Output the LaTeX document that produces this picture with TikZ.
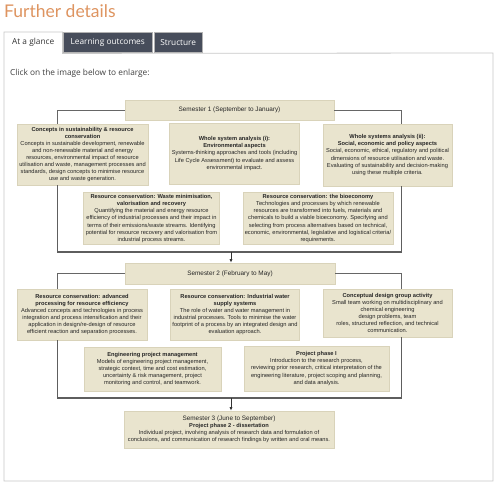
\documentclass[tikz,border=0pt]{standalone}
\usepackage{fontspec}
\setmainfont{Liberation Sans}
\newfontfamily\uifont{Open Sans}
\newfontfamily\titlefont{Lato}
\usetikzlibrary{arrows.meta}
\definecolor{boxfill}{HTML}{E9E4CE}
\definecolor{boxedge}{HTML}{D9D3BA}
\definecolor{connc}{HTML}{666666}
\definecolor{framec}{HTML}{5E5E5E}
\definecolor{tabdark}{HTML}{474D5B}
\definecolor{panelgray}{HTML}{C8C8C8}
\definecolor{titleorange}{HTML}{DE9460}
\begin{document}
\begin{tikzpicture}[x=1pt,y=-1pt,
  box/.style={draw=boxedge, fill=boxfill, line width=0.6pt, inner sep=2pt, align=center,
    font=\fontsize{5.7}{7.1}\selectfont, text=black!85},
  sem/.style={box, font=\fontsize{6.4}{8}\selectfont},
  wh/.style n args={2}{minimum width=#1pt, minimum height=#2pt},
  conn/.style={draw=connc, line width=0.9pt},
  frame/.style={draw=framec, line width=1.1pt},
  arr/.style={draw=black!80, line width=0.8pt, -{Latex[length=3.5pt,width=3pt]}},
  tabon/.style={fill=white, text=black!80, font=\uifont\fontsize{8.3}{9}\selectfont, inner sep=0pt, anchor=north west},
  taboff/.style={fill=tabdark, draw=black!30, text=white, font=\uifont\fontsize{8.3}{9}\selectfont, inner sep=0pt, anchor=north west},
]
\fill[white] (0,0) rectangle (500,483);
\useasboundingbox (0,0) rectangle (500,483);

% page header
\node[anchor=base west, inner sep=0pt, font=\titlefont\fontsize{17.5}{17.5}\selectfont, text=titleorange] (title) at (4,17) {Further details};
\node[tabon, wh={58}{21}] (tab1) at (4,32) {At a glance};
\node[taboff, wh={89}{20}] (tab2) at (63,32) {Learning outcomes};
\node[taboff, wh={48}{20}] (tab3) at (154,32) {Structure};
\coordinate (pne) at (493,53);
\coordinate (pse) at (493,481);
\coordinate (psw) at (4,481);
\draw[panelgray, line width=0.8pt] (tab1.south west) |- (tab1.north east) -- (tab1.south east) -- (pne) -- (pse) -- (psw) -- (tab1.south west);
\node[anchor=west, inner sep=0pt, font=\uifont\fontsize{8.3}{9}\selectfont, text=black!75] (click) at (10,73) {Click on the image below to enlarge:};

% coordinates for connector columns
\coordinate (l1) at (57.5,0);
\coordinate (r1) at (401.5,0);
\coordinate (bot1) at (231,252);
\coordinate (bot2) at (231,398);

% Semester 1
\node[sem, wh={209}{20}] (sem1) at (229.5,110) {Semester 1 (September to January)};
\node[box, wh={131}{61}] (A) at (82.5,154.5) {\textbf{Concepts in sustainability \& resource}\\\textbf{conservation}\\Concepts in sustainable development, renewable\\and non-renewable material and energy\\resources, environmental impact of resource\\utilisation and waste, management processes and\\standards, design concepts to minimise resource\\use and waste generation.};
\node[box, wh={129}{61}] (B) at (234.5,153.5) {\textbf{Whole system analysis (i):}\\\textbf{Environmental aspects}\\Systems-thinking approaches and tools (including\\Life Cycle Assessment) to evaluate and assess\\environmental impact.};
\node[box, wh={129}{62}] (C) at (387.5,155) {\textbf{Whole systems analysis (ii):}\\\textbf{Social, economic and policy aspects}\\Social, economic, ethical, regulatory and political\\dimensions of resource utilisation and waste.\\Evaluating of sustainability and decision-making\\using these multiple criteria.};
\node[box, wh={135}{49}] (D) at (151.5,218.5) {\textbf{Resource conservation: Waste minimisation,}\\\textbf{valorisation and recovery}\\Quantifying the material and energy resource\\efficiency of industrial processes and their impact in\\terms of their emissions/waste streams. Identifying\\potential for resource recovery and valorisation from\\industrial process streams.};
\node[box, wh={146}{49}] (E) at (318,218.5) {\textbf{Resource conservation: the bioeconomy}\\Technologies and processes by which renewable\\resources are transformed into fuels, materials and\\chemicals to build a viable bioeconomy. Specifying and\\selecting from process alternatives based on technical,\\economic, environmental, legislative and logistical criteria/\\requirements.};

\draw[conn] (sem1.west) -| (A.north -| l1);
\draw[conn] (sem1.east) -| (C.north -| r1);
\draw[frame] (A.south -| l1) |- (bot1) -| (C.south -| r1);

% Semester 2
\node[sem, wh={210}{21}] (sem2) at (230,273.5) {Semester 2 (February to May)};
\draw[arr] (bot1) -- (sem2.north -| bot1);
\node[box, wh={130}{51}] (F) at (82,314.5) {\textbf{Resource conservation: advanced}\\\textbf{processing for resource efficiency}\\Advanced concepts and technologies in process\\integration and process intensification and their\\application in design/re-design of resource\\efficient reaction and separation processes.};
\node[box, wh={126}{51}] (G) at (235,314.5) {\textbf{Resource conservation: Industrial water}\\\textbf{supply systems}\\The role of water and water management in\\industrial processes. Tools to minimise the water\\footprint of a process by an integrated design and\\evaluation approach.};
\node[box, wh={129}{48}] (H) at (387.5,313) {\textbf{Conceptual design group activity}\\Small team working on multidisciplinary and\\chemical engineering\\design problems, team\\roles, structured reflection, and technical\\communication.};
\node[box, wh={137}{44}] (I) at (152.5,369) {\textbf{Engineering project management}\\Models of engineering project management,\\strategic context, time and cost estimation,\\uncertainty \& risk management, project\\monitoring and control, and teamwork.};
\node[box, wh={145}{45}] (J) at (316.5,368.5) {\textbf{Project phase I}\\Introduction to the research process,\\reviewing prior research, critical interpretation of the\\engineering literature, project scoping and planning,\\and data analysis.};

\draw[conn] (sem2.west) -| (F.north -| l1);
\draw[conn] (sem2.east) -| (H.north -| r1);
\draw[frame] (F.south -| l1) |- (bot2) -| (H.south -| r1);

% Semester 3
\node[box, wh={210}{37}] (sem3) at (229,429.5) {{\fontsize{6.4}{8}\selectfont Semester 3 (June to September)}\\\textbf{Project phase 2 - dissertation}\\Individual project, involving analysis of research data and formulation of\\conclusions, and communication of research findings by written and oral means.};
\draw[arr] (bot2) -- (sem3.north -| bot2);
\end{tikzpicture}
\end{document}
